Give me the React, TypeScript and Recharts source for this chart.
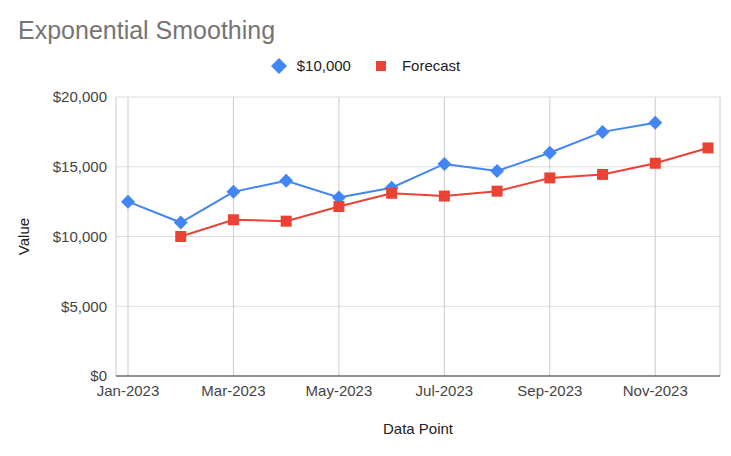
import React from "react";
import { LineChart, Line, XAxis, YAxis, CartesianGrid, Legend } from "recharts";

const months = [
  "Jan-2023", "Feb-2023", "Mar-2023", "Apr-2023", "May-2023", "Jun-2023",
  "Jul-2023", "Aug-2023", "Sep-2023", "Oct-2023", "Nov-2023", "Dec-2023",
];
const actual = [12500, 11000, 13200, 14000, 12800, 13500, 15200, 14700, 16000, 17500, 18150, null];
const forecast = [null, 10000, 11200, 11100, 12150, 13100, 12900, 13250, 14200, 14450, 15250, 16350];
const yTicks = [0, 5000, 10000, 15000, 20000];
const xTicks = [0, 2, 4, 6, 8, 10];

const BLUE = "#4285F4";
const RED = "#EA4335";
const FONT = "'Liberation Sans', Arial, sans-serif";

const data = months.map((m, i) => ({ idx: i, month: m, actual: actual[i], forecast: forecast[i] }));

const money = (v: number) => "$" + v.toLocaleString("en-US");

// diamond marker for the actual series
const DiamondDot = (props: any) => {
  const { cx, cy, index } = props;
  if (cx == null || cy == null || props.value == null) return <g key={`dd-${index}`} />;
  const r = 7;
  return (
    <polygon
      key={`dd-${index}`}
      points={`${cx},${cy - r} ${cx + r},${cy} ${cx},${cy + r} ${cx - r},${cy}`}
      fill={BLUE}
    />
  );
};

// square marker for the forecast series
const SquareDot = (props: any) => {
  const { cx, cy, index } = props;
  if (cx == null || cy == null || props.value == null) return <g key={`sd-${index}`} />;
  const s = 11;
  return <rect key={`sd-${index}`} x={cx - s / 2} y={cy - s / 2} width={s} height={s} fill={RED} />;
};

const CustomLegend = ({ payload }: any) => {
  if (!payload) return null;
  return (
    <div style={{ display: "flex", justifyContent: "center", alignItems: "center", fontFamily: FONT, fontSize: 15, color: "#222" }}>
      {payload.map((entry: any, i: number) => (
        <div key={`leg-${i}`} style={{ display: "flex", alignItems: "center", marginLeft: i === 0 ? 0 : 22 }}>
          <svg width={16} height={16} style={{ marginRight: entry.dataKey === "actual" ? 10 : 13 }}>
            {entry.dataKey === "actual" ? (
              <polygon points="8,0 16,8 8,16 0,8" fill={BLUE} />
            ) : (
              <rect x={3} y={3} width={10} height={10} fill={RED} />
            )}
          </svg>
          <span>{entry.value}</span>
        </div>
      ))}
    </div>
  );
};

export default function App() {
  return (
    <div style={{ position: "absolute", left: 0, top: 0, width: 731, height: 456, background: "#fff" }}>
      <div style={{ position: "absolute", left: 18, top: 16, fontFamily: FONT, fontSize: 25, color: "#757575", whiteSpace: "nowrap" }}>
        Exponential Smoothing
      </div>
      <LineChart
        width={731}
        height={456}
        data={data}
        margin={{ top: 97, right: 11, bottom: 40, left: 0 }}
        style={{ fontFamily: FONT }}
      >
        <CartesianGrid horizontal={true} vertical={false} stroke="#dedede" />
        <CartesianGrid horizontal={false} vertical={true} stroke="#cccccc" />
        <XAxis
          dataKey="idx"
          type="number"
          domain={[0, 11]}
          ticks={xTicks}
          tickFormatter={(v: number) => months[v]}
          padding={{ left: 12, right: 12 }}
          height={40}
          tickLine={false}
          tickMargin={3}
          axisLine={{ stroke: "#333", strokeWidth: 1 }}
          tick={{ fill: "#444", fontSize: 15 }}
          label={{ value: "Data Point", position: "bottom", offset: 7, fill: "#222", fontSize: 15 }}
        />
        <YAxis
          domain={[0, 20000]}
          ticks={yTicks}
          tickFormatter={money}
          width={116}
          tickLine={false}
          tickMargin={3}
          axisLine={false}
          tick={{ fill: "#444", fontSize: 15 }}
          label={{ value: "Value", angle: -90, position: "insideLeft", offset: 24, fill: "#222", fontSize: 15, style: { textAnchor: "middle" } }}
        />
        <Legend
          verticalAlign="middle"
          align="center"
          wrapperStyle={{ top: 57, left: 0, width: 731 }}
          content={<CustomLegend />}
        />
        <Line
          dataKey="actual"
          name="$10,000"
          stroke={BLUE}
          strokeWidth={2}
          dot={DiamondDot}
          activeDot={false}
          isAnimationActive={false}
        />
        <Line
          dataKey="forecast"
          name="Forecast"
          stroke={RED}
          strokeWidth={2}
          dot={SquareDot}
          activeDot={false}
          isAnimationActive={false}
        />
      </LineChart>
    </div>
  );
}
